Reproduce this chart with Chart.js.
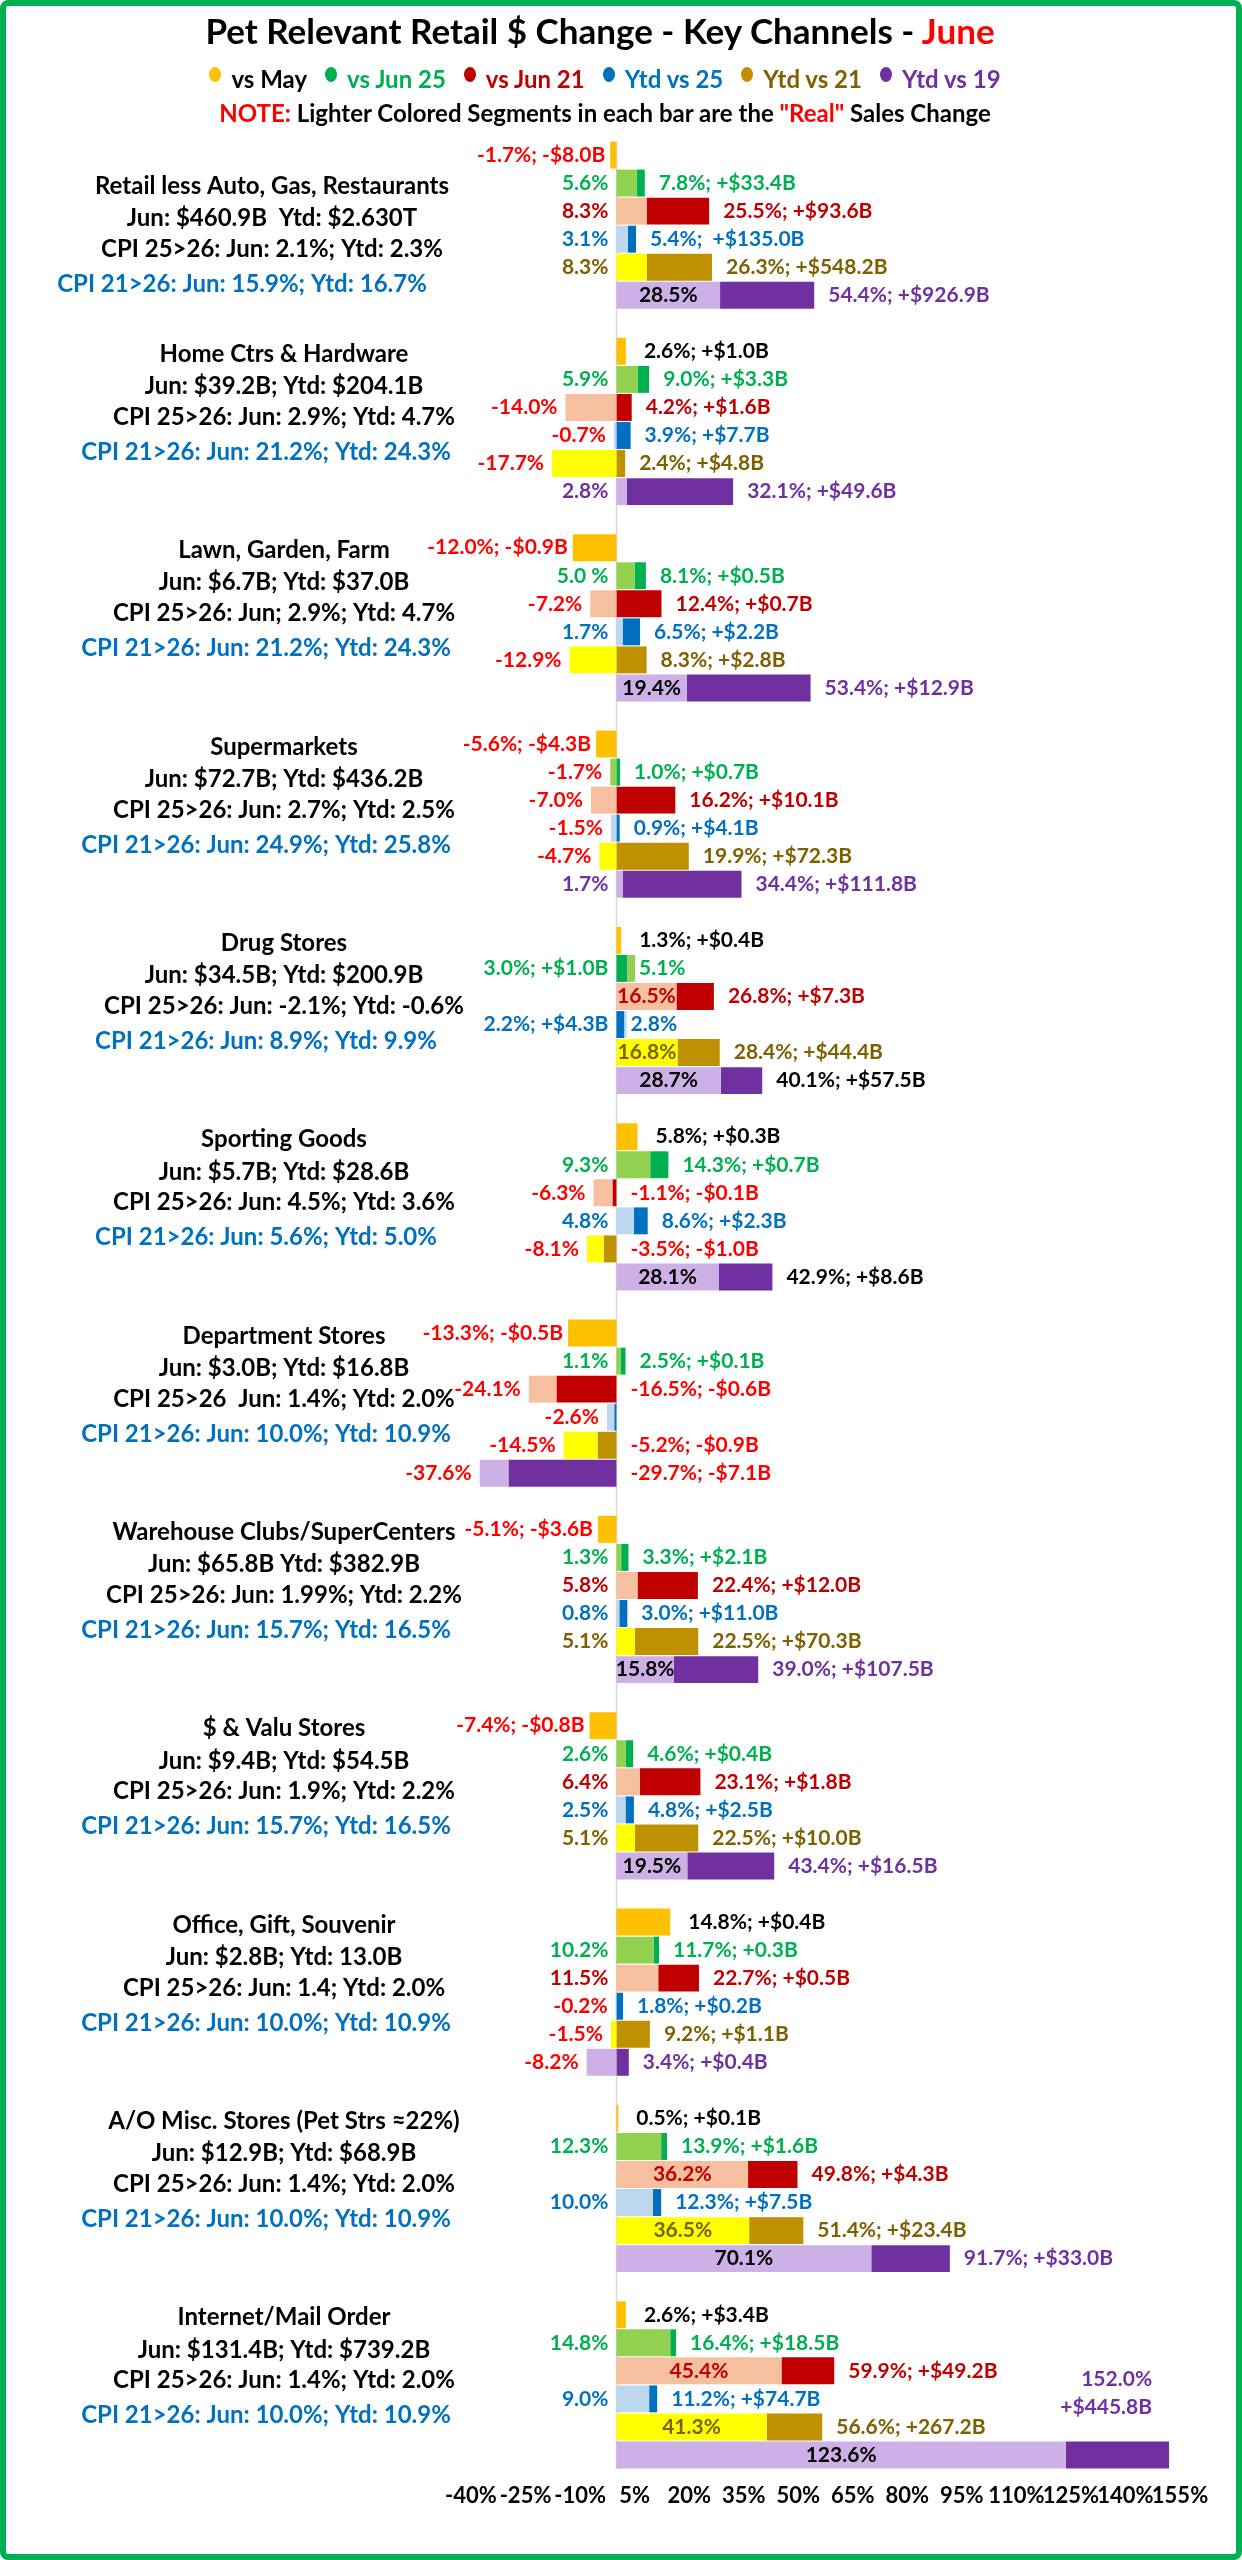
<!DOCTYPE html>
<html>
<head>
<meta charset="utf-8">
<script src="https://cdn.jsdelivr.net/npm/chart.js@4.4.1/dist/chart.umd.min.js"></script>
<style>
html,body{margin:0;padding:0;background:#fff;}
#wrap{position:relative;width:1242px;height:2560px;overflow:hidden;background:#fff;
  font-family:'Lato',sans-serif;font-weight:bold;}
#frame{position:absolute;left:0;top:0;width:1242px;height:2560px;box-sizing:border-box;border:6px solid #00b050;border-radius:8px;pointer-events:none;}
#title{position:absolute;left:0;width:1200px;top:8px;text-align:center;font-size:35px;line-height:44px;color:#000;white-space:nowrap;}
#legend{position:absolute;left:0;width:1210px;top:62px;text-align:center;font-size:24px;line-height:34px;white-space:nowrap;}
#note{position:absolute;left:0;width:1210px;top:96px;text-align:center;font-size:24px;line-height:34px;color:#000;white-space:nowrap;}
.li{display:inline-block;margin:0 9px;}
.dot{display:inline-block;width:12px;height:15px;border-radius:50%;margin-right:10px;vertical-align:middle;position:relative;top:-7px;}
canvas{position:absolute;left:0;top:0;}
</style>
</head>
<body>
<div id="wrap">
  <canvas id="c" width="1242" height="2560"></canvas>
  <div id="title">Pet Relevant Retail $ Change - Key Channels - <span style="color:#ff0000">June</span></div>
  <div id="legend"></div>
  <div id="note"><span style="color:#ff0000">NOTE:</span> Lighter Colored Segments in each bar are the <span style="color:#ff0000">"Real"</span> Sales Change</div>
  <div id="frame"></div>
</div>
<script>
// ---------------- DATA ----------------
const channels = [
  'Retail less Auto, Gas, Restaurants','Home Ctrs & Hardware','Lawn, Garden, Farm','Supermarkets',
  'Drug Stores','Sporting Goods','Department Stores','Warehouse Clubs/SuperCenters',
  '$ & Valu Stores','Office, Gift, Souvenir','A/O Misc. Stores (Pet Strs \u224822%)','Internet/Mail Order'];
const salesLines = [
  'Jun: $460.9B  Ytd: $2.630T','Jun: $39.2B; Ytd: $204.1B','Jun: $6.7B; Ytd: $37.0B','Jun: $72.7B; Ytd: $436.2B',
  'Jun: $34.5B; Ytd: $200.9B','Jun: $5.7B; Ytd: $28.6B','Jun: $3.0B; Ytd: $16.8B','Jun: $65.8B Ytd: $382.9B',
  'Jun: $9.4B; Ytd: $54.5B','Jun: $2.8B; Ytd: 13.0B','Jun: $12.9B; Ytd: $68.9B','Jun: $131.4B; Ytd: $739.2B'];
const cpi25Lines = [
  'CPI 25>26: Jun: 2.1%; Ytd: 2.3%','CPI 25>26: Jun: 2.9%; Ytd: 4.7%','CPI 25>26: Jun; 2.9%; Ytd: 4.7%','CPI 25>26: Jun: 2.7%; Ytd: 2.5%',
  'CPI 25>26: Jun: -2.1%; Ytd: -0.6%','CPI 25>26: Jun: 4.5%; Ytd: 3.6%','CPI 25>26  Jun: 1.4%; Ytd: 2.0%','CPI 25>26: Jun: 1.99%; Ytd: 2.2%',
  'CPI 25>26: Jun: 1.9%; Ytd: 2.2%','CPI 25>26: Jun: 1.4; Ytd: 2.0%','CPI 25>26: Jun: 1.4%; Ytd: 2.0%','CPI 25>26: Jun: 1.4%; Ytd: 2.0%'];
const cpi21Lines = [
  'CPI 21>26: Jun: 15.9%; Ytd: 16.7%','CPI 21>26: Jun: 21.2%; Ytd: 24.3%','CPI 21>26: Jun: 21.2%; Ytd: 24.3%','CPI 21>26: Jun: 24.9%; Ytd: 25.8%',
  'CPI 21>26: Jun: 8.9%; Ytd: 9.9%','CPI 21>26: Jun: 5.6%; Ytd: 5.0%','CPI 21>26: Jun: 10.0%; Ytd: 10.9%','CPI 21>26: Jun: 15.7%; Ytd: 16.5%',
  'CPI 21>26: Jun: 15.7%; Ytd: 16.5%','CPI 21>26: Jun: 10.0%; Ytd: 10.9%','CPI 21>26: Jun: 10.0%; Ytd: 10.9%','CPI 21>26: Jun: 10.0%; Ytd: 10.9%'];

const seriesNames = ['vs May','vs Jun 25','vs Jun 21','Ytd vs 25','Ytd vs 21','Ytd vs 19'];

const vsMay = [-1.7, 2.6, -12.0, -5.6, 1.3, 5.8, -13.3, -5.1, -7.4, 14.8, 0.5, 2.6];
const vsMayLabels = ['-1.7%; -$8.0B','2.6%; +$1.0B','-12.0%; -$0.9B','-5.6%; -$4.3B','1.3%; +$0.4B','5.8%; +$0.3B',
  '-13.3%; -$0.5B','-5.1%; -$3.6B','-7.4%; -$0.8B','14.8%; +$0.4B','0.5%; +$0.1B','2.6%; +$3.4B'];

const jun25Nominal = [7.8, 9.0, 8.1, 1.0, 3.0, 14.3, 2.5, 3.3, 4.6, 11.7, 13.9, 16.4];
const jun25Real    = [5.6, 5.9, 5.0, -1.7, 5.1, 9.3, 1.1, 1.3, 2.6, 10.2, 12.3, 14.8];
const jun25NomLabels = ['7.8%; +$33.4B','9.0%; +$3.3B','8.1%; +$0.5B','1.0%; +$0.7B','3.0%; +$1.0B','14.3%; +$0.7B',
  '2.5%; +$0.1B','3.3%; +$2.1B','4.6%; +$0.4B','11.7%; +0.3B','13.9%; +$1.6B','16.4%; +$18.5B'];
const jun25RealLabels = ['5.6%','5.9%','5.0 %','-1.7%','5.1%','9.3%','1.1%','1.3%','2.6%','10.2%','12.3%','14.8%'];

const jun21Nominal = [25.5, 4.2, 12.4, 16.2, 26.8, -1.1, -16.5, 22.4, 23.1, 22.7, 49.8, 59.9];
const jun21Real    = [8.3, -14.0, -7.2, -7.0, 16.5, -6.3, -24.1, 5.8, 6.4, 11.5, 36.2, 45.4];
const jun21NomLabels = ['25.5%; +$93.6B','4.2%; +$1.6B','12.4%; +$0.7B','16.2%; +$10.1B','26.8%; +$7.3B','-1.1%; -$0.1B',
  '-16.5%; -$0.6B','22.4%; +$12.0B','23.1%; +$1.8B','22.7%; +$0.5B','49.8%; +$4.3B','59.9%; +$49.2B'];
const jun21RealLabels = ['8.3%','-14.0%','-7.2%','-7.0%','16.5%','-6.3%','-24.1%','5.8%','6.4%','11.5%','36.2%','45.4%'];

const ytd25Nominal = [5.4, 3.9, 6.5, 0.9, 2.2, 8.6, -0.6, 3.0, 4.8, 1.8, 12.3, 11.2];
const ytd25Real    = [3.1, -0.7, 1.7, -1.5, 2.8, 4.8, -2.6, 0.8, 2.5, -0.2, 10.0, 9.0];
const ytd25NomLabels = ['5.4%;  +$135.0B','3.9%; +$7.7B','6.5%; +$2.2B','0.9%; +$4.1B','2.2%; +$4.3B','8.6%; +$2.3B',
  null,'3.0%; +$11.0B','4.8%; +$2.5B','1.8%; +$0.2B','12.3%; +$7.5B','11.2%; +$74.7B'];
const ytd25RealLabels = ['3.1%','-0.7%','1.7%','-1.5%','2.8%','4.8%','-2.6%','0.8%','2.5%','-0.2%','10.0%','9.0%'];

const ytd21Nominal = [26.3, 2.4, 8.3, 19.9, 28.4, -3.5, -5.2, 22.5, 22.5, 9.2, 51.4, 56.6];
const ytd21Real    = [8.3, -17.7, -12.9, -4.7, 16.8, -8.1, -14.5, 5.1, 5.1, -1.5, 36.5, 41.3];
const ytd21NomLabels = ['26.3%; +$548.2B','2.4%; +$4.8B','8.3%; +$2.8B','19.9%; +$72.3B','28.4%; +$44.4B','-3.5%; -$1.0B',
  '-5.2%; -$0.9B','22.5%; +$70.3B','22.5%; +$10.0B','9.2%; +$1.1B','51.4%; +$23.4B','56.6%; +267.2B'];
const ytd21RealLabels = ['8.3%','-17.7%','-12.9%','-4.7%','16.8%','-8.1%','-14.5%','5.1%','5.1%','-1.5%','36.5%','41.3%'];

const ytd19Nominal = [54.4, 32.1, 53.4, 34.4, 40.1, 42.9, -29.7, 39.0, 43.4, 3.4, 91.7, 152.0];
const ytd19Real    = [28.5, 2.8, 19.4, 1.7, 28.7, 28.1, -37.6, 15.8, 19.5, -8.2, 70.1, 123.6];
const ytd19NomLabels = ['54.4%; +$926.9B','32.1%; +$49.6B','53.4%; +$12.9B','34.4%; +$111.8B','40.1%; +$57.5B','42.9%; +$8.6B',
  '-29.7%; -$7.1B','39.0%; +$107.5B','43.4%; +$16.5B','3.4%; +$0.4B','91.7%; +$33.0B','152.0%; +$445.8B'];
const ytd19RealLabels = ['28.5%','2.8%','19.4%','1.7%','28.7%','28.1%','-37.6%','15.8%','19.5%','-8.2%','70.1%','123.6%'];

const xTicks = [-40,-25,-10,5,20,35,50,65,80,95,110,125,140,155];

// ---------------- STYLE ----------------
const FONT = "Lato, sans-serif";
const markerColors = ['#ffc000','#00b050','#c00000','#0070c0','#bf9000','#7030a0'];
const legendTextColors = ['#000000','#00b050','#c00000','#0070c0','#7f6000','#7030a0'];
const darkColors  = [null,'#00b050','#c00000','#0070c0','#bf9000','#7030a0'];
const lightColors = [null,'#92d050','#f6bf9f','#bdd7ee','#ffff00','#ccb0e6'];
const labelColors = [null,'#00b050','#c00000','#0070c0','#7f6000','#7030a0'];
const insideColors = [null,'#00b050','#c00000','#0070c0','#7f6000','#000000'];
const NEG = '#ff0000';
const blackNomLabel = {5:[4,5]}; // series 5 label shown black for these groups

// legend
const leg = document.getElementById('legend');
seriesNames.forEach((n,i)=>{
  const s = document.createElement('span'); s.className='li';
  s.innerHTML = '<span class="dot" style="background:'+markerColors[i]+'"></span><span style="color:'+legendTextColors[i]+'">'+n+'</span>';
  leg.appendChild(s);
});

// ---------------- BUILD ----------------
const G = channels.length, PER = 7, NROWS = G*PER - 1;
const rowLabels = Array.from({length:NROWS},(_,i)=>'r'+i);
const nominals = [null, jun25Nominal, jun21Nominal, ytd25Nominal, ytd21Nominal, ytd19Nominal];
const reals    = [null, jun25Real, jun21Real, ytd25Real, ytd21Real, ytd19Real];
const nomLabels = [vsMayLabels, jun25NomLabels, jun21NomLabels, ytd25NomLabels, ytd21NomLabels, ytd19NomLabels];
const realLabels = [null, jun25RealLabels, jun21RealLabels, ytd25RealLabels, ytd21RealLabels, ytd19RealLabels];

function segs(N,R){
  if ((N>=0 && R>=0) || (N<0 && R<0)){
    if (Math.abs(R) <= Math.abs(N)) return {light:[0,R], dark:[R,N]};
    return {dark:[0,N], light:[N,R]};
  }
  return {light:[0,R], dark:[0,N]};
}
const empty = () => new Array(NROWS).fill(null);
const datasets = [];
const mayData = empty();
vsMay.forEach((v,g)=>{ mayData[g*PER] = [0,v]; });
datasets.push({label:seriesNames[0], data:mayData, backgroundColor:markerColors[0]});
for (let s=1;s<=5;s++){
  const ld = empty(), dd = empty();
  for (let g=0; g<G; g++){
    const sg = segs(nominals[s][g], reals[s][g]);
    ld[g*PER+s] = sg.light; dd[g*PER+s] = sg.dark;
  }
  datasets.push({label:seriesNames[s]+' real', data:ld, backgroundColor:lightColors[s]});
  datasets.push({label:seriesNames[s], data:dd, backgroundColor:darkColors[s]});
}
datasets.forEach(d=>{ d.grouped=false; d.barPercentage=0.96; d.categoryPercentage=1.0; d.borderWidth=0; });

const zeroLine = {
  id:'zeroLine',
  beforeDatasetsDraw(chart){
    const {ctx, chartArea:a, scales:{x}} = chart;
    const x0 = Math.round(x.getPixelForValue(0))+0.5;
    ctx.save(); ctx.strokeStyle='#d9d9d9'; ctx.lineWidth=1.5;
    ctx.beginPath(); ctx.moveTo(x0,a.top); ctx.lineTo(x0,a.bottom); ctx.stroke(); ctx.restore();
  }
};

const textPlugin = {
  id:'texts',
  afterDatasetsDraw(chart){
    const {ctx, scales:{x,y}} = chart;
    const rowH = y.getPixelForValue(1) - y.getPixelForValue(0);
    const px = v => x.getPixelForValue(v);
    const x0 = px(0);
    ctx.save();
    ctx.textBaseline='middle';
    // left channel text
    ctx.font = 'bold 24px '+FONT;
    for (let g=0; g<G; g++){
      const shift = g===0 ? 1 : 0;
      const cx = g===0 ? 272 : 284, bx = g===0 ? 242 : 266;
      const base = y.getPixelForValue(g*PER + shift);
      ctx.textAlign='center';
      ctx.fillStyle='#000';
      ctx.fillText(channels[g], cx, base + 0.1*rowH);
      ctx.fillText(salesLines[g], cx, base + 1.25*rowH);
      ctx.fillText(cpi25Lines[g], cx, base + 2.35*rowH);
      ctx.fillStyle='#0070c0';
      ctx.fillText(cpi21Lines[g], bx, base + 3.6*rowH);
    }
    // data labels
    ctx.font = 'bold 21px '+FONT;
    const GAPN = 14, GAPR = 8;
    for (let g=0; g<G; g++){
      const v = vsMay[g], yy = y.getPixelForValue(g*PER);
      if (v>=0){ ctx.textAlign='left'; ctx.fillStyle='#000'; ctx.fillText(vsMayLabels[g], px(v)+18, yy); }
      else { ctx.textAlign='right'; ctx.fillStyle=NEG; ctx.fillText(vsMayLabels[g], px(v)-5, yy); }
      for (let s=1;s<=5;s++){
        const N = nominals[s][g], R = reals[s][g];
        const ry = y.getPixelForValue(g*PER+s);
        const lo = Math.min(0,N,R), hi = Math.max(0,N,R);
        const nl = nomLabels[s][g], rl = realLabels[s][g];
        let nCol = N<0 ? NEG : labelColors[s];
        if (blackNomLabel[s] && blackNomLabel[s].includes(g)) nCol = '#000';
        const rCol = R<0 ? NEG : labelColors[s];
        if (R > N && N >= 0){
          if (nl){ ctx.textAlign='right'; ctx.fillStyle=nCol; ctx.fillText(nl, x0-GAPR, ry); }
          ctx.textAlign='left'; ctx.fillStyle=rCol; ctx.fillText(rl, px(hi)+4, ry);
          continue;
        }
        if (nl){
          const w = ctx.measureText(nl).width;
          const sx = px(hi)+GAPN;
          if (sx + w > chart.width - 20){
            const parts = nl.split('; ');
            ctx.textAlign='right'; ctx.fillStyle=nCol;
            ctx.fillText(parts[0], px(hi)-17, ry - 2.7*rowH);
            ctx.fillText(parts[1], px(hi)-17, ry - 1.7*rowH);
          } else {
            ctx.textAlign='left'; ctx.fillStyle=nCol; ctx.fillText(nl, sx, ry);
          }
        }
        if (rl){
          if (R >= 15){
            ctx.textAlign='center'; ctx.fillStyle=insideColors[s]; ctx.fillText(rl, px(R/2), ry);
          } else {
            ctx.textAlign='right'; ctx.fillStyle=rCol; ctx.fillText(rl, px(lo)-GAPR, ry);
          }
        }
      }
    }
    ctx.restore();
  }
};

new Chart(document.getElementById('c'), {
  type:'bar',
  data:{labels:rowLabels, datasets},
  options:{
    indexAxis:'y',
    responsive:false,
    animation:false,
    devicePixelRatio:1,
    layout:{padding:{left:471, right:62, top:141, bottom:47}},
    plugins:{legend:{display:false}, tooltip:{enabled:false}, title:{display:false}},
    scales:{
      y:{type:'category', display:false, offset:true},
      x:{
        type:'linear', min:xTicks[0], max:xTicks[xTicks.length-1],
        afterBuildTicks: s => { s.ticks = xTicks.map(v=>({value:v})); },
        afterFit: s => { s.height = 44; },
        grid:{display:false, drawTicks:false},
        border:{display:false},
        ticks:{padding:14, color:'#000', autoSkip:false, maxRotation:0, font:{family:FONT, size:22, weight:'bold'},
          callback: v => v + '%'}
      }
    }
  },
  plugins:[zeroLine, textPlugin]
});
</script>
</body>
</html>
